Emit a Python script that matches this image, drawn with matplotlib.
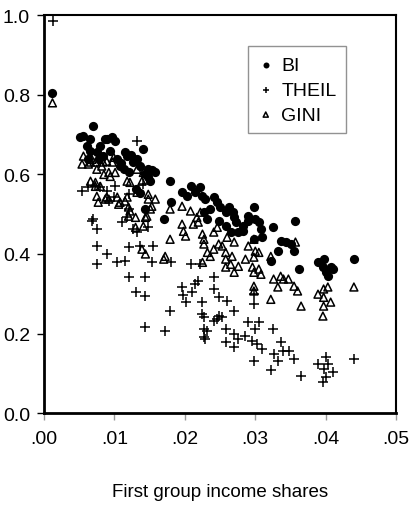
import numpy as np
import matplotlib
matplotlib.use("Agg")
import matplotlib.pyplot as plt

plt.rcParams['font.family'] = ['Liberation Sans', 'DejaVu Sans']

# BI index vs first group income share
bi_x = [.0012, .0051, .0056, .0061, .0066, .0066, .0070, .0075, .0080, .0084,
        .0090, .0094, .0097, .0101, .0108, .0113, .0115, .0118, .0120, .0127,
        .0130, .0132, .0136, .0137, .0141, .0144, .0147, .0148, .0151, .0153,
        .0158, .0170, .0179, .0180, .0196, .0203, .0208, .0215, .0222, .0225,
        .0227, .0229, .0232, .0236, .0241, .0246, .0248, .0250, .0258, .0258,
        .0262, .0265, .0268, .0270, .0272, .0276, .0282, .0283, .0289, .0290,
        .0298, .0298, .0300, .0305, .0308, .0310, .0322, .0325, .0332, .0336,
        .0343, .0350, .0355, .0357, .0362, .0389, .0397, .0396, .0400, .0407,
        .0403, .0410, .0440, .0086, .0078, .0104, .0110, .0124, .0143, .0062]
bi_y = [.805, .693, .696, .671, .688, .658, .721, .656, .671, .646,
        .688, .658, .693, .683, .621, .613, .656, .646, .605, .631,
        .563, .638, .553, .621, .663, .513, .593, .613, .583, .610,
        .605, .487, .583, .530, .555, .545, .570, .555, .568, .545,
        .505, .538, .487, .513, .543, .530, .482, .518, .505, .470,
        .518, .455, .505, .492, .480, .455, .470, .457, .482, .495,
        .518, .437, .487, .480, .462, .442, .382, .467, .407, .432,
        .430, .425, .407, .482, .362, .379, .387, .367, .354, .367,
        .344, .362, .387, .690, .640, .640, .628, .650, .600, .640]

# THEIL index
theil_x = [.0013, .0054, .0063, .0073, .0080, .0089, .0101, .0099, .0092, .0120,
           .0141, .0132, .0068, .0070, .0075, .0111, .0120, .0118, .0127, .0132,
           .0148, .0075, .0120, .0137, .0155, .0075, .0089, .0104, .0115, .0120,
           .0130, .0144, .0144, .0153, .0144, .0172, .0179, .0180, .0208, .0196,
           .0198, .0201, .0210, .0215, .0219, .0222, .0225, .0225, .0227, .0227,
           .0227, .0229, .0232, .0241, .0241, .0248, .0241, .0246, .0248, .0253,
           .0258, .0258, .0260, .0270, .0270, .0270, .0276, .0286, .0289, .0296,
           .0298, .0298, .0298, .0300, .0303, .0305, .0310, .0322, .0325, .0326,
           .0332, .0336, .0339, .0348, .0355, .0365, .0389, .0397, .0400, .0403,
           .0400, .0396, .0410, .0440]
theil_y = [.985, .558, .568, .570, .568, .558, .570, .543, .533, .550,
           .575, .683, .482, .487, .462, .480, .513, .492, .462, .455,
           .467, .420, .417, .420, .420, .374, .400, .379, .382, .342,
           .304, .342, .294, .379, .216, .206, .256, .379, .374, .317,
           .297, .279, .304, .324, .332, .374, .279, .249, .241, .211,
           .191, .186, .206, .342, .312, .291, .231, .236, .244, .241,
           .211, .178, .281, .256, .198, .166, .186, .193, .229, .181,
           .299, .274, .131, .211, .173, .229, .161, .108, .211, .148,
           .131, .178, .156, .156, .136, .093, .123, .111, .141, .123,
           .090, .078, .103, .136]

# GINI index
gini_x = [.0012, .0054, .0056, .0063, .0066, .0068, .0073, .0075, .0082, .0084,
          .0089, .0092, .0085, .0097, .0099, .0101, .0094, .0066, .0073, .0073,
          .0080, .0075, .0077, .0087, .0089, .0092, .0104, .0106, .0108, .0115,
          .0118, .0118, .0122, .0120, .0122, .0120, .0130, .0132, .0132, .0141,
          .0139, .0130, .0141, .0144, .0148, .0158, .0153, .0148, .0151, .0146,
          .0139, .0144, .0170, .0172, .0179, .0179, .0196, .0196, .0198, .0201,
          .0208, .0212, .0217, .0219, .0222, .0225, .0227, .0227, .0225, .0232,
          .0236, .0241, .0241, .0246, .0248, .0253, .0258, .0258, .0258, .0260,
          .0265, .0267, .0270, .0270, .0276, .0286, .0290, .0296, .0298, .0298,
          .0298, .0298, .0298, .0300, .0305, .0305, .0308, .0322, .0322, .0326,
          .0332, .0336, .0340, .0347, .0355, .0357, .0360, .0365, .0389, .0397,
          .0403, .0397, .0407, .0397, .0396, .0440]
gini_y = [.780, .626, .646, .626, .631, .638, .631, .613, .621, .631,
          .633, .605, .600, .631, .643, .605, .595, .583, .580, .570,
          .570, .545, .530, .538, .543, .538, .543, .525, .530, .533,
          .543, .583, .580, .518, .508, .495, .492, .555, .613, .605,
          .583, .467, .470, .492, .538, .538, .520, .550, .513, .495,
          .412, .400, .387, .394, .513, .437, .520, .475, .457, .445,
          .508, .475, .492, .480, .505, .450, .437, .425, .379, .404,
          .394, .412, .455, .467, .425, .420, .404, .387, .367, .442,
          .374, .394, .430, .354, .369, .387, .420, .367, .437, .392,
          .354, .319, .307, .407, .404, .362, .349, .394, .286, .337,
          .317, .344, .337, .337, .319, .430, .307, .269, .299, .312,
          .317, .291, .279, .269, .244, .317]

fig = plt.figure(figsize=(4.09, 5.10), dpi=100)
ax = fig.add_axes([0.1076, 0.188, 0.861, 0.780])

ax.scatter(bi_x, bi_y, s=44, marker='o', color='black', linewidths=0, label='BI', zorder=3)
ax.scatter(theil_x, theil_y, s=55, marker='+', color='black', linewidths=1.1, label='THEIL', zorder=3)
ax.scatter(gini_x, gini_y, s=32, marker='^', facecolors='none', edgecolors='black',
           linewidths=1.1, label='GINI', zorder=3)

ax.set_xlim(0, 0.05)
ax.set_ylim(0, 1.0)
ax.set_xticks([0, .01, .02, .03, .04, .05])
ax.set_xticklabels(['.00', '.01', '.02', '.03', '.04', '.05'])
ax.set_yticks([0, .2, .4, .6, .8, 1.0])
ax.set_yticklabels(['0.0', '0.2', '0.4', '0.6', '0.8', '1.0'])
ax.tick_params(direction='out', length=5, width=1, labelsize=14, colors='black')
ax.tick_params(axis='x', pad=7, colors='#999999', labelcolor='black')
ax.tick_params(axis='y', pad=5)

for side in ['left', 'bottom']:
    ax.spines[side].set_linewidth(2.0)
for side in ['top', 'right']:
    ax.spines[side].set_linewidth(1.5)

ax.set_xlabel('First group income shares', fontsize=13.5, labelpad=26)

leg = ax.legend(loc='upper left', bbox_to_anchor=(0.58, 0.922), borderaxespad=0,
                fontsize=14, markerscale=0.65, handletextpad=0.4, labelspacing=0.38,
                fancybox=False, frameon=True, borderpad=0.5, handlelength=0.8)
leg.get_frame().set_edgecolor('#777777')
leg.get_frame().set_linewidth(1.0)

fig.savefig('out.png', dpi=100)
